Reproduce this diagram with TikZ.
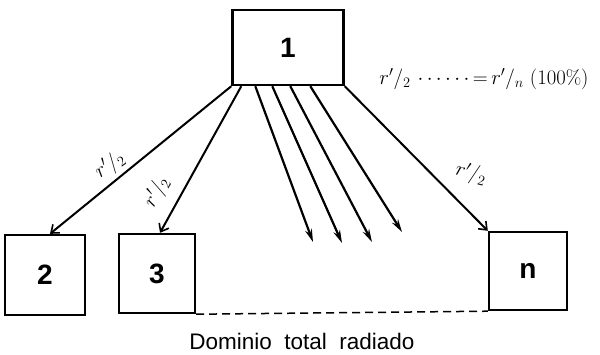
\documentclass[tikz,border=0pt]{standalone}
\usepackage{fontspec}
\setsansfont{Liberation Sans}
\usetikzlibrary{arrows.meta,calc}
\begin{document}
\begin{tikzpicture}[x=1pt,y=-1pt,
  boxnode/.style={draw,line width=2.4pt,inner sep=0pt,font=\sffamily\bfseries\fontsize{28}{30}\selectfont},
  ray/.style={line width=2.2pt,-{Stealth[length=13pt,width=7pt]}},
  hit/.style={line width=2pt,-{Straight Barb[length=7pt,width=11pt,line width=1.6pt]}},
  hand/.style={font=\fontsize{20}{22}\selectfont}]
\useasboundingbox (0,0) rectangle (600,354);
\node[boxnode,minimum width=111pt,minimum height=75pt] (b1) at (288,47.5) {1};
\node[boxnode,minimum width=80pt,minimum height=80pt] (b2) at (45,275) {2};
\node[boxnode,minimum width=76pt,minimum height=79pt] (b3) at (157,273.5) {3};
\node[boxnode,minimum width=78pt,minimum height=78pt] (bn) at (528,271) {n};
\coordinate (s3) at ($(b1.south west)+(10,0)$);
\coordinate (p1) at ($(b1.south west)+(24,0)$);
\coordinate (p2) at ($(b1.south west)+(41,0)$);
\coordinate (p3) at ($(b1.south west)+(59,0)$);
\coordinate (p4) at ($(b1.south west)+(79,0)$);
\coordinate (t1) at (313,242);
\coordinate (t2) at (342,243);
\coordinate (t3) at (372,242);
\coordinate (t4) at (402,232);
\draw[hit] (b1.south west) -- ($(b2.north)+(5,0)$);
\draw[hit] (s3) -- ($(b3.north)+(3,0)$);
\draw[hit] (b1.south east) -- (bn.north west);
\draw[ray] (p1) -- (t1);
\draw[ray] (p2) -- (t2);
\draw[ray] (p3) -- (t3);
\draw[ray] (p4) -- (t4);
\draw[line width=1.5pt,dash pattern=on 8pt off 5pt] (b3.south east) -- (bn.south west);
\node[hand,rotate=35] (l2) at (110,165) {$r'/_{2}$};
\node[hand,rotate=60] (l3) at (157,192) {$r'/_{2}$};
\node[hand,rotate=-15] (ln) at (471,174) {$r'/_{2}$};
\node[hand] (top) at (484,79) {$r'/_{2}\,\cdots\cdots{=}\, r'/_{n}\ (100\%)$};
\node[font=\sffamily\fontsize{22.5}{24}\selectfont] (cap) at (302,341) {Dominio\ \ total\ \ radiado};
\end{tikzpicture}
\end{document}
